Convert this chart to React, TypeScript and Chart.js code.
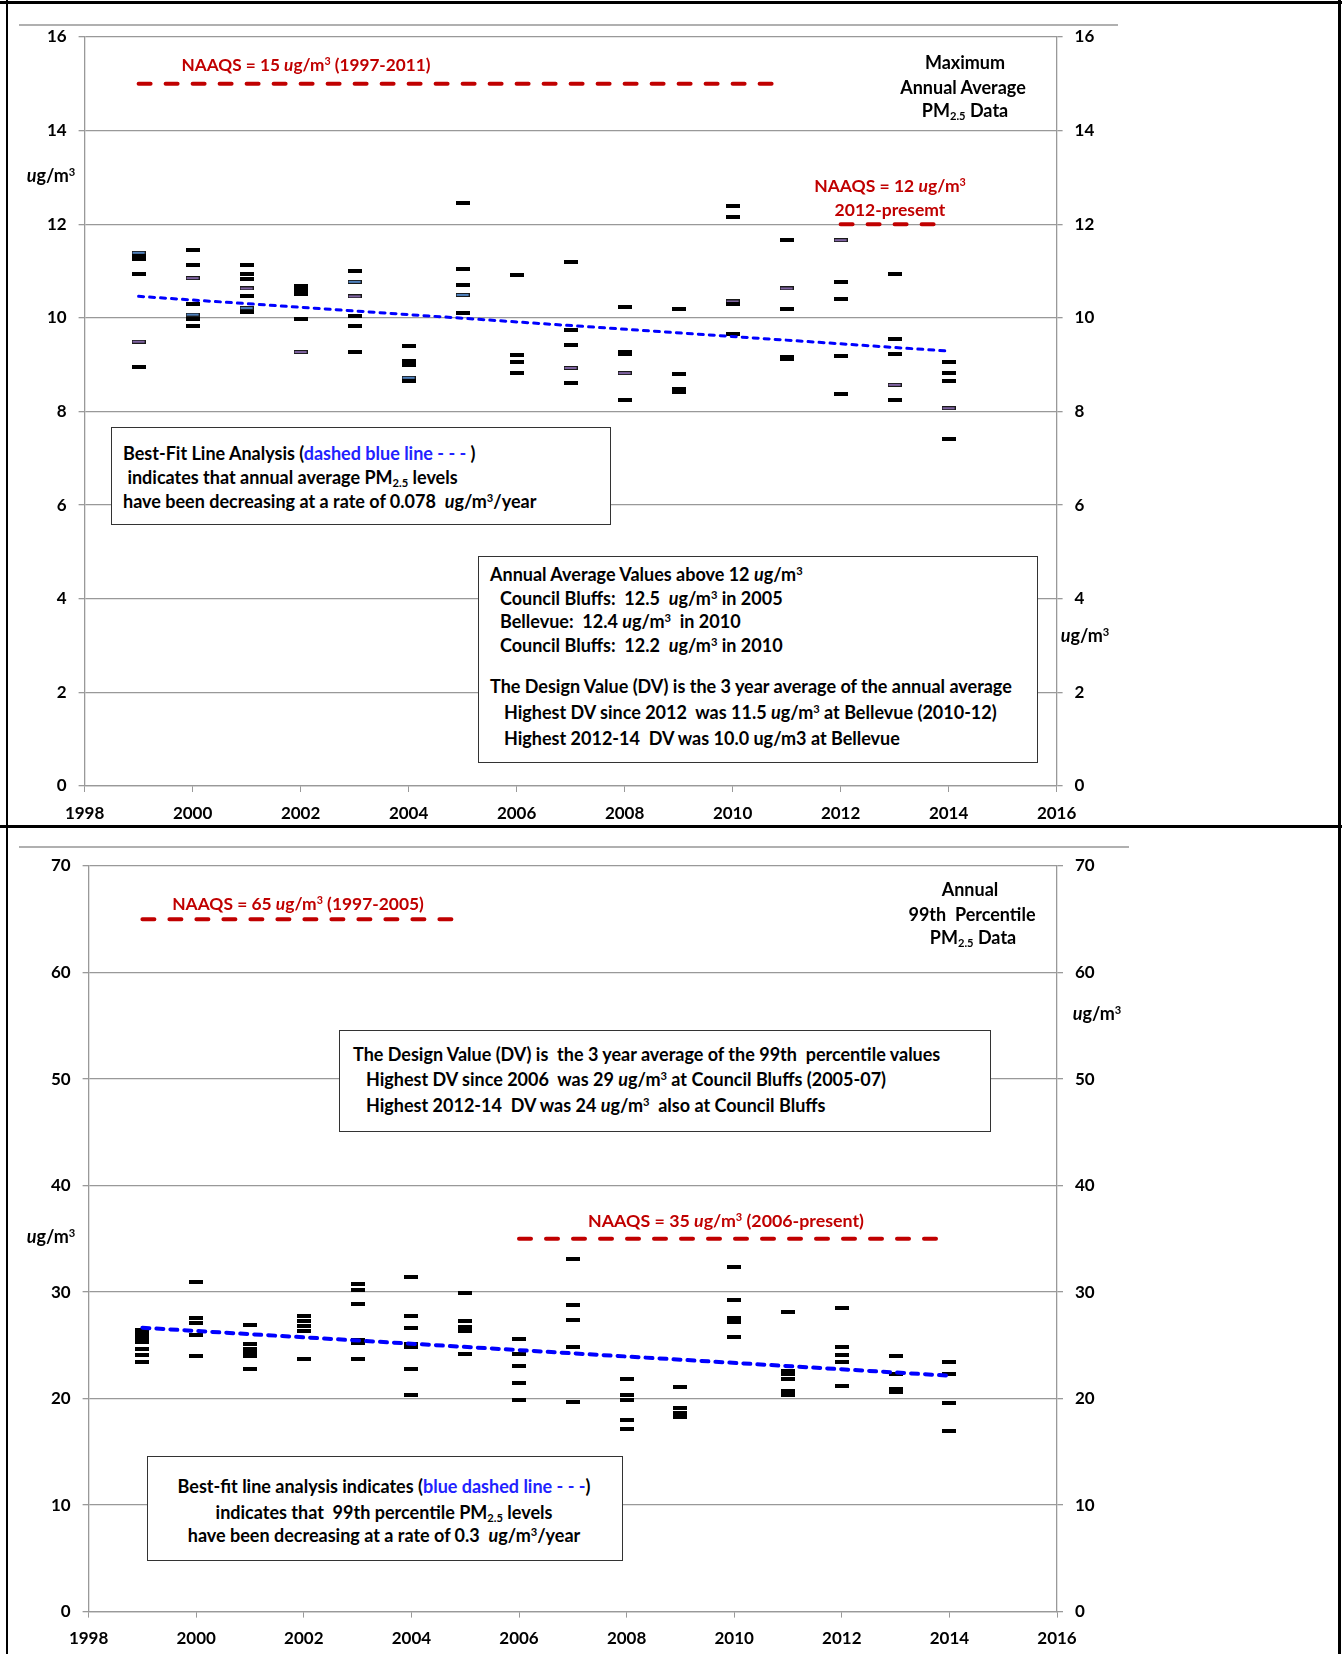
import React, { useEffect, useRef } from "react";
import { Chart, registerables } from "chart.js";

Chart.register(...registerables);

// ---------------- DATA ----------------
const years = [1999, 2000, 2001, 2002, 2003, 2004, 2005, 2006, 2007, 2008, 2009, 2010, 2011, 2012, 2013, 2014];

// Maximum annual average PM2.5 (ug/m3), one list per year
const annualBlack: number[][] = [
  [11.32, 11.26, 10.93, 8.95],
  [11.44, 11.13, 10.3, 9.97, 9.83],
  [11.13, 10.93, 10.83, 10.46, 10.12],
  [10.68, 10.6, 10.52, 9.97],
  [11.0, 10.04, 9.83, 9.27],
  [9.39, 9.08, 9.0, 8.66],
  [12.45, 11.05, 10.7, 10.1],
  [10.91, 9.2, 9.05, 8.82],
  [11.19, 9.74, 9.41, 8.6],
  [10.24, 9.27, 9.22, 8.24],
  [10.19, 8.81, 8.48, 8.42],
  [12.38, 12.15, 10.29, 9.65],
  [11.66, 10.19, 9.17, 9.13],
  [10.77, 10.41, 9.18, 8.38],
  [10.94, 9.54, 9.22, 8.24],
  [9.05, 8.82, 8.65, 7.41],
];
const annualBlue: number[][] = [
  [11.39], [10.07], [10.21], [], [10.77], [8.72], [10.49], [], [], [], [], [], [], [], [], [],
];
const annualPurple: number[][] = [
  [9.49], [10.85], [10.63], [9.27], [10.46], [], [], [], [8.93], [8.82], [], [10.35], [10.63], [11.66], [8.57], [8.07],
];

// Annual 99th percentile PM2.5 (ug/m3), one list per year
const p99Values: number[][] = [
  [26.4, 26.05, 25.7, 25.35, 24.7, 24.07, 23.45],
  [30.98, 27.6, 27.1, 26.0, 23.95],
  [26.9, 25.17, 24.7, 24.3, 24.0, 22.82],
  [27.78, 27.27, 26.8, 26.3, 23.7],
  [30.72, 30.22, 28.87, 25.5, 25.2, 23.76],
  [31.45, 27.78, 26.65, 25.1, 24.8, 22.82, 20.38],
  [29.94, 27.3, 26.7, 26.3, 24.2],
  [25.55, 24.23, 23.07, 21.47, 19.87],
  [33.07, 28.75, 27.4, 24.83, 19.65],
  [21.85, 20.3, 19.9, 18.02, 17.18],
  [21.06, 19.12, 18.6, 18.3],
  [32.32, 29.25, 27.6, 27.2, 25.8],
  [28.16, 22.55, 22.3, 21.85, 20.72, 20.35],
  [28.53, 24.83, 24.07, 23.45, 21.22],
  [23.95, 22.29, 20.94, 20.59],
  [23.45, 22.35, 19.56, 16.92],
];

const trendYears = [1999, 2014];
const annualTrend = [10.46, 9.29];
const p99Trend = [26.65, 22.15];

const naaqs15Years = [1999, 2011];
const naaqs15Value = 15;
const naaqs12Years = [2012, 2013.8];
const naaqs12Value = 12;
const naaqs65Years = [1999, 2005];
const naaqs65Value = 65;
const naaqs35Years = [2006, 2014];
const naaqs35Value = 35;

const xTicks = { min: 1998, max: 2016, step: 2 };
const annualAxis = { min: 0, max: 16, step: 2 };
const p99Axis = { min: 0, max: 70, step: 10 };

// ---------------- HELPERS ----------------
const FONT = "Lato, 'Open Sans', sans-serif";
const GRID = "#999999";

function toPoints(lists: number[][]) {
  const pts: { x: number; y: number }[] = [];
  lists.forEach((vals, i) => vals.forEach((v) => pts.push({ x: years[i], y: v })));
  return pts;
}
function pair(xs: number[], ys: number[]) {
  return xs.map((x, i) => ({ x, y: ys[i] }));
}

function makeMark(fill: string, edge: string | null, h: number) {
  const c = document.createElement("canvas");
  c.width = 14;
  c.height = h;
  const ctx = c.getContext("2d")!;
  if (edge) {
    ctx.fillStyle = edge;
    ctx.fillRect(0, 0, 14, h);
    ctx.fillStyle = fill;
    ctx.fillRect(1, 1, 12, h - 2);
  } else {
    ctx.fillStyle = fill;
    ctx.fillRect(0, 0, 14, h);
  }
  return c;
}

function scatterSet(data: any[], mark: HTMLCanvasElement, order: number) {
  return {
    type: "scatter" as const,
    data,
    pointStyle: mark,
    pointRadius: 3,
    showLine: false,
    order,
  };
}

function lineSet(data: any[], color: string, width: number, dash: number[], order: number) {
  return {
    type: "scatter" as const,
    data,
    showLine: true,
    borderColor: color,
    backgroundColor: color,
    borderWidth: width,
    borderDash: dash,
    borderCapStyle: "round" as const,
    pointRadius: 0,
    order,
  };
}

function buildOptions(axis: { min: number; max: number; step: number }, pad: any) {
  const tickFont = { family: FONT, size: 17, weight: "bold" as const };
  return {
    responsive: false,
    animation: false as const,
    events: [] as any[],
    layout: { padding: pad },
    plugins: { legend: { display: false }, tooltip: { enabled: false } },
    scales: {
      x: {
        type: "linear" as const,
        min: xTicks.min,
        max: xTicks.max,
        ticks: { stepSize: xTicks.step, color: "#000", font: tickFont, padding: 11, callback: (v: any) => String(v) },
        grid: { drawOnChartArea: false, drawTicks: true, tickLength: 6, color: GRID },
        border: { color: GRID, width: 1.3 },
        afterFit: (s: any) => { s.height = 40; },
      },
      y: {
        type: "linear" as const,
        position: "left" as const,
        min: axis.min,
        max: axis.max,
        ticks: { stepSize: axis.step, color: "#000", font: tickFont, padding: 12 },
        grid: { color: GRID, lineWidth: 1.3, tickLength: 6 },
        border: { color: GRID, width: 1.3 },
        afterFit: (s: any) => { s.width = 60; },
      },
      y2: {
        type: "linear" as const,
        position: "right" as const,
        min: axis.min,
        max: axis.max,
        ticks: { stepSize: axis.step, color: "#000", font: tickFont, padding: 12 },
        grid: { drawOnChartArea: false, color: GRID, lineWidth: 1.3, tickLength: 6 },
        border: { color: GRID, width: 1.3 },
        afterFit: (s: any) => { s.width = 60; },
      },
    },
  };
}

// ---------------- TEXT PIECES ----------------
const Sup = ({ c }: { c: string }) => (
  <span style={{ fontSize: "0.62em", position: "relative", top: "-0.55em" }}>{c}</span>
);
const Sub = ({ c }: { c: string }) => (
  <span style={{ fontSize: "0.62em", position: "relative", top: "0.3em" }}>{c}</span>
);
const Ug = () => (
  <span>
    <i>u</i>g/m<Sup c="3" />
  </span>
);
const PM = () => (
  <span>
    PM<Sub c="2.5" />
  </span>
);

type TProps = { x: number; y: number; align?: "center" | "left"; size?: number; color?: string; children: any };
const T = ({ x, y, align = "left", size = 18, color = "#000", children }: TProps) => (
  <div
    style={{
      position: "absolute",
      left: x,
      top: y,
      transform: align === "center" ? "translate(-50%, -50%)" : "translate(0, -50%)",
      whiteSpace: "pre",
      fontFamily: FONT,
      fontWeight: 700,
      fontSize: size,
      lineHeight: 1.2,
      color,
    }}
  >
    {children}
  </div>
);

const Box = ({ l, t, w, h }: { l: number; t: number; w: number; h: number }) => (
  <div
    style={{
      position: "absolute",
      left: l,
      top: t,
      width: w,
      height: h,
      boxSizing: "border-box",
      border: "1.5px solid #333",
      background: "#fff",
    }}
  />
);

const Rule = ({ l, t, w, h, c }: { l: number; t: number; w: number; h: number; c: string }) => (
  <div style={{ position: "absolute", left: l, top: t, width: w, height: h, background: c }} />
);

const RED = "#c00000";
const BLUE_TXT = "#2222ff";

export default function App() {
  const topRef = useRef<HTMLCanvasElement>(null);
  const botRef = useRef<HTMLCanvasElement>(null);

  useEffect(() => {
    const black = makeMark("#000", null, 4);
    const blue = makeMark("#4f81bd", "#1a1a1a", 4);
    const purple = makeMark("#8064a2", "#1a1a1a", 4);
    const black2 = makeMark("#000", null, 4);

    const top = new Chart(topRef.current!, {
      type: "scatter",
      data: {
        datasets: [
          lineSet(pair(naaqs15Years, naaqs15Years.map(() => naaqs15Value)), RED, 4, [12, 15], 0),
          lineSet(pair(naaqs12Years, naaqs12Years.map(() => naaqs12Value)), RED, 4, [12, 15], 0),
          lineSet(pair(trendYears, annualTrend), "#0000ff", 3, [5, 6], 1),
          scatterSet(toPoints(annualBlack), black, 2),
          scatterSet(toPoints(annualBlue), blue, 2),
          scatterSet(toPoints(annualPurple), purple, 2),
        ] as any,
      },
      options: buildOptions(annualAxis, { left: 24.6, right: 225.4, top: 37, bottom: 0 }) as any,
    });

    const bot = new Chart(botRef.current!, {
      type: "scatter",
      data: {
        datasets: [
          lineSet(pair(naaqs65Years, naaqs65Years.map(() => naaqs65Value)), RED, 4, [12, 15], 0),
          lineSet(pair(naaqs35Years, naaqs35Years.map(() => naaqs35Value)), RED, 4, [12, 15], 0),
          lineSet(pair(trendYears, p99Trend), "#0000ff", 4, [7, 7], 1),
          scatterSet(toPoints(p99Values), black2, 2),
        ] as any,
      },
      options: buildOptions(p99Axis, { left: 28.6, right: 225, top: 40, bottom: 2.4 }) as any,
    });

    return () => {
      top.destroy();
      bot.destroy();
    };
  }, []);

  return (
    <div style={{ position: "absolute", left: 0, top: 0, width: 1342, height: 1654, background: "#fff", overflow: "hidden" }}>
      {/* chart-area top edges */}
      <Rule l={19} t={24} w={1099} h={2} c="#b0b0b0" />
      <Rule l={19} t={846} w={1110} h={2} c="#b0b0b0" />

      <canvas ref={topRef} width={1342} height={826} style={{ position: "absolute", left: 0, top: 0, width: 1342, height: 826 }} />
      <canvas ref={botRef} width={1342} height={828} style={{ position: "absolute", left: 0, top: 826, width: 1342, height: 828 }} />

      {/* ---------- top chart texts ---------- */}
      <T x={306} y={65} align="center" color={RED} size={17.2}>
        NAAQS = 15 <Ug /> (1997-2011)
      </T>
      <T x={890} y={185} align="center" color={RED} size={17.5}>
        NAAQS = 12 <Ug />
      </T>
      <T x={890} y={209} align="center" color={RED} size={17.5}>
        2012-presemt
      </T>
      <T x={965} y={63} align="center">Maximum</T>
      <T x={963} y={88} align="center">Annual Average</T>
      <T x={965} y={111} align="center">
        <PM /> Data
      </T>
      <T x={51} y={176} align="center">
        <Ug />
      </T>
      <T x={1085} y={636} align="center">
        <Ug />
      </T>

      <Box l={111} t={427} w={500} h={98} />
      <T x={123} y={454}>
        Best-Fit Line Analysis (<span style={{ color: BLUE_TXT }}>dashed blue line - - - </span>)
      </T>
      <T x={123} y={478}>
        {" "}indicates that annual average <PM /> levels
      </T>
      <T x={123} y={502}>
        have been decreasing at a rate of 0.078  <Ug />/year
      </T>

      <Box l={478} t={556} w={560} h={207} />
      <T x={490} y={575}>
        Annual Average Values above 12 <Ug />
      </T>
      <T x={500} y={599}>
        Council Bluffs:  12.5  <Ug /> in 2005
      </T>
      <T x={500} y={622}>
        Bellevue:  12.4 <Ug />  in 2010
      </T>
      <T x={500} y={646}>
        Council Bluffs:  12.2  <Ug /> in 2010
      </T>
      <T x={490} y={687}>The Design Value (DV) is the 3 year average of the annual average</T>
      <T x={504} y={713}>
        Highest DV since 2012  was 11.5 <Ug /> at Bellevue (2010-12)
      </T>
      <T x={504} y={739}>Highest 2012-14  DV was 10.0 ug/m3 at Bellevue</T>

      {/* ---------- bottom chart texts ---------- */}
      <T x={298} y={904} align="center" color={RED} size={17.4}>
        NAAQS = 65 <Ug /> (1997-2005)
      </T>
      <T x={726} y={1221} align="center" color={RED} size={17.8}>
        NAAQS = 35 <Ug /> (2006-present)
      </T>
      <T x={970} y={890} align="center">Annual</T>
      <T x={972} y={915} align="center">99th  Percentile</T>
      <T x={973} y={938} align="center">
        <PM /> Data
      </T>
      <T x={51} y={1237} align="center">
        <Ug />
      </T>
      <T x={1097} y={1014} align="center">
        <Ug />
      </T>

      <Box l={339} t={1030} w={652} h={102} />
      <T x={353} y={1055}>The Design Value (DV) is  the 3 year average of the 99th  percentile values</T>
      <T x={366} y={1080}>
        Highest DV since 2006  was 29 <Ug /> at Council Bluffs (2005-07)
      </T>
      <T x={366} y={1106}>
        Highest 2012-14  DV was 24 <Ug />  also at Council Bluffs
      </T>

      <Box l={147} t={1456} w={476} h={105} />
      <T x={384} y={1487} align="center">
        Best-fit line analysis indicates (<span style={{ color: BLUE_TXT }}>blue dashed line - - -</span>)
      </T>
      <T x={384} y={1513} align="center">
        indicates that  99th percentile <PM /> levels
      </T>
      <T x={384} y={1536} align="center">
        have been decreasing at a rate of 0.3  <Ug />/year
      </T>

      {/* ---------- page frame ---------- */}
      <Rule l={0} t={1} w={1342} h={3} c="#000" />
      <Rule l={6} t={0} w={2} h={1654} c="#000" />
      <Rule l={1338} t={0} w={3} h={1654} c="#000" />
      <Rule l={0} t={825} w={1342} h={3} c="#000" />
    </div>
  );
}
